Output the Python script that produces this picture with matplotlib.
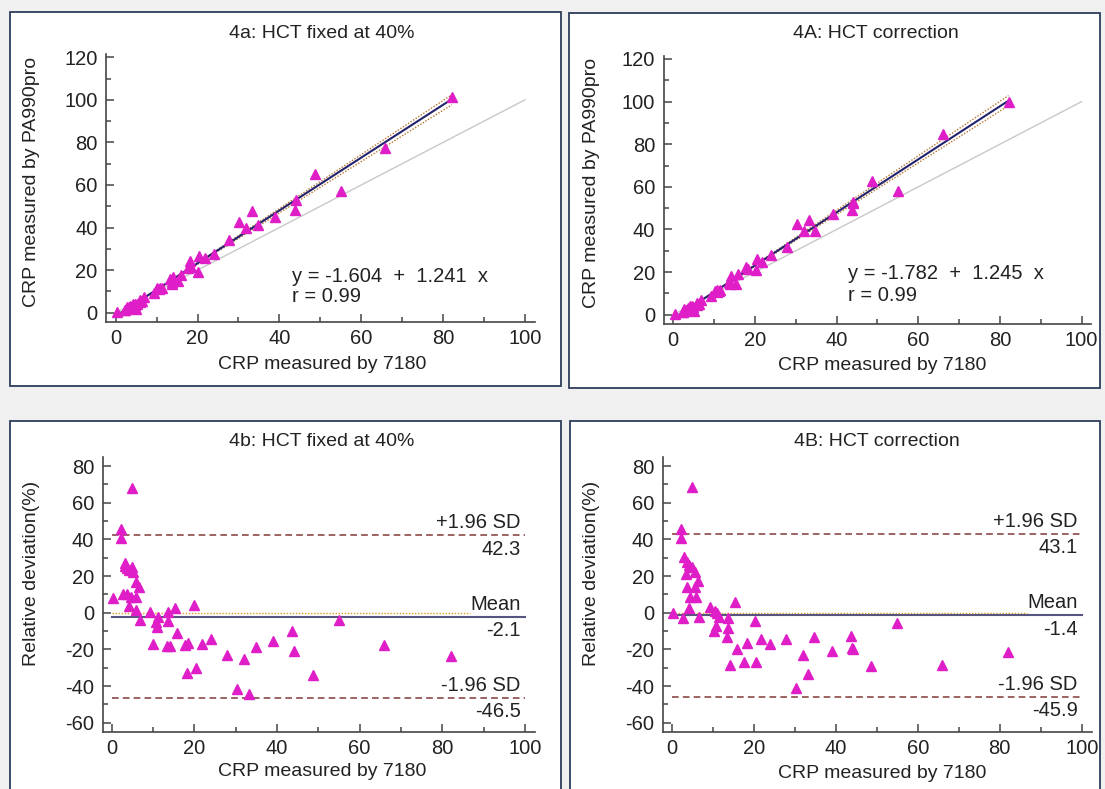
import matplotlib
matplotlib.use("Agg")
import matplotlib.pyplot as plt
from matplotlib.patches import Rectangle
from matplotlib.ticker import MultipleLocator
import numpy as np

plt.rcParams["font.family"] = ["Liberation Sans", "DejaVu Sans"]
plt.rcParams["font.size"] = 14
plt.rcParams["axes.unicode_minus"] = False

W, H = 1105, 789

# --- data: HCT fixed at 40% (4a / 4b) --------------------------------------
x_fixed = [0.4, 2.3, 2.3, 2.8, 3.1, 3.3, 3.6, 3.6, 4.2, 4.2, 4.7, 4.8, 5.0, 5.2,
           5.9, 6.0, 6.0, 6.5, 6.9, 9.3, 10.1, 10.7, 10.9, 11.3, 13.3, 13.7,
           13.7, 14.1, 15.3, 15.9, 17.7, 18.1, 18.4, 20.0, 20.4, 21.8, 24.0,
           27.8, 30.2, 31.9, 33.2, 34.8, 39.0, 43.7, 44.0, 48.6, 55.1, 65.9, 82.1]
pa_fixed = [0.4, 1.3, 1.4, 2.5, 2.3, 2.5, 3.2, 2.7, 4.0, 3.2, 4.3, 3.6, 1.6, 4.0,
            5.4, 5.0, 5.9, 5.6, 7.2, 9.3, 11.8, 11.3, 11.7, 11.6, 15.7, 13.6,
            14.3, 16.6, 14.9, 17.6, 20.9, 24.1, 21.4, 19.2, 26.6, 25.5, 27.5,
            34.3, 42.8, 39.9, 47.9, 41.4, 45.0, 48.1, 53.1, 65.1, 57.3, 77.5, 101.5]
dev_fixed = [7.8, 45.6, 40.5, 10.2, 27.3, 25.5, 10.2, 24.2, 3.6, 23.3, 8.7, 24.7,
             67.8, 22.4, 8.7, 16.9, 1.5, 14.2, -4.0, 0.5, -17.1, -5.3, -7.6, -2.2,
             -18.0, 0.5, -4.4, -18.0, 2.5, -10.9, -17.8, -33.1, -16.4, 4.2, -30.4,
             -17.1, -14.5, -23.3, -41.8, -25.1, -44.4, -18.9, -15.3, -10.0, -20.7,
             -34.0, -4.0, -17.6, -23.6]

# --- data: HCT correction (4A / 4B) ----------------------------------------
x_corr = [0.4, 2.3, 2.3, 2.7, 3.1, 3.7, 4.3, 4.9, 3.5, 5.7, 6.3, 3.7, 5.7, 4.5,
          5.9, 4.1, 5.0, 6.7, 9.3, 10.6, 11.1, 11.5, 10.8, 10.2, 13.8, 13.8,
          13.6, 15.4, 15.9, 14.1, 17.7, 18.3, 20.5, 20.2, 21.8, 24.0, 27.8,
          32.0, 33.2, 30.2, 34.7, 39.0, 43.7, 43.9, 44.1, 48.6, 55.0, 66.0, 82.1]
pa_corr = [0.4, 1.3, 1.4, 2.8, 2.2, 2.7, 3.2, 3.7, 2.8, 4.4, 5.2, 3.2, 4.9, 4.1,
           5.4, 4.0, 1.6, 6.9, 9.0, 10.5, 11.1, 11.8, 11.6, 11.2, 14.2, 14.9,
           15.4, 14.5, 19.1, 18.1, 22.5, 21.3, 26.1, 21.1, 24.9, 28.1, 31.8,
           39.4, 44.4, 42.7, 39.3, 47.1, 49.3, 52.3, 52.9, 62.7, 58.0, 84.8, 99.6]
dev_corr = [0.0, 45.6, 40.9, -2.7, 30.2, 27.8, 26.0, 24.7, 21.1, 22.4, 17.5, 14.2,
            13.8, 8.7, 8.7, 2.4, 68.4, -2.2, 3.3, 1.1, -0.4, -2.5, -7.1, -10.0,
            -2.7, -8.2, -13.1, 5.6, -19.8, -28.5, -27.1, -16.4, -27.1, -4.5,
            -14.4, -17.1, -14.5, -23.1, -33.6, -41.3, -13.1, -20.7, -12.7, -19.1,
            -20.0, -29.1, -5.5, -28.5, -21.3]

# regression: intercept, slope; CI lines (lower/upper)
reg_fixed = (-1.604, 1.241)
ci_fixed = [(-1.3, 1.205), (-1.9, 1.270)]
reg_corr = (-1.782, 1.245)
ci_corr = [(-1.5, 1.213), (-2.1, 1.278)]

# Bland-Altman: +1.96 SD, mean, -1.96 SD
ba_fixed = (42.3, -2.1, -46.5)
ba_corr = (43.1, -1.4, -45.9)

MAGENTA = "#e01ec8"
SPINE = "#454545"

fig = plt.figure(figsize=(W / 100, H / 100), dpi=100, facecolor="#f0f0f0")


def frame(l, t, r, b):
    rect = Rectangle((l / W, 1 - b / H), (r - l) / W, (b - t) / H,
                     transform=fig.transFigure, facecolor="white",
                     edgecolor="#2e3d5c", linewidth=1.3, zorder=-10)
    fig.add_artist(rect)


frame(10, 12, 561, 386)
frame(569, 13, 1100, 388)
frame(10, 421, 561, 800)
frame(570, 421, 1100, 800)


def make_ax(x0, sx, y0, sy, xlim, ylim):
    # x0/y0: pixel of data 0, sx/sy: pixels per unit
    l = x0 + sx * xlim[0]
    r = x0 + sx * xlim[1]
    t = y0 - sy * ylim[1]
    b = y0 - sy * ylim[0]
    ax = fig.add_axes([l / W, 1 - b / H, (r - l) / W, (b - t) / H])
    ax.set_zorder(5)
    ax.set_xlim(xlim)
    ax.set_ylim(ylim)
    ax.patch.set_alpha(0)
    for s in ("top", "right"):
        ax.spines[s].set_visible(False)
    for s in ("left", "bottom"):
        ax.spines[s].set_color(SPINE)
        ax.spines[s].set_linewidth(1.2)
    ax.tick_params(which="both", direction="in", color=SPINE, width=1.1,
                   labelsize=14.5, labelcolor="#222222")
    ax.tick_params(which="major", length=6)
    ax.tick_params(which="minor", length=3.3)
    ax.tick_params(axis="x", pad=5)
    ax.tick_params(axis="y", pad=6)
    ax.xaxis.set_major_locator(MultipleLocator(20))
    ax.xaxis.set_minor_locator(MultipleLocator(10))
    return ax


def ftext(px, py, s, **kw):
    fig.text(px / W, 1 - py / H, s, fontsize=14, color="#222222", zorder=6, **kw)


def scatter_panel(ax, x, y, reg, ci, label_pos):
    ax.plot([0, 100], [0, 100], color="#c8c8c8", lw=1.0, zorder=1)
    xs = np.array([min(x), max(x)])
    for a, b in ci:
        ax.plot(xs, a + b * xs, color="#b8742c", lw=1.0, ls=(0, (1, 1.2)), zorder=2)
    ax.plot(xs, reg[0] + reg[1] * xs, color="#23236e", lw=1.5, zorder=3)
    ax.plot(x, y, "^", color=MAGENTA, ms=7.5, mec=MAGENTA, zorder=4)
    ax.yaxis.set_major_locator(MultipleLocator(20))
    ax.yaxis.set_minor_locator(MultipleLocator(10))
    ax.set_yticks(range(0, 121, 20))
    ax.text(label_pos[0], label_pos[1], f"y = {reg[0]:.3f}  +  {reg[1]:.3f}  x",
            fontsize=14.5, color="#222222", va="center")
    ax.text(label_pos[0], label_pos[2], "r = 0.99", fontsize=14.5, color="#222222",
            va="center")


def ba_panel(ax, x, d, ba):
    up, mean, lo = ba
    ax.plot([0, 86.7], [0, 0], color="#d9a020", lw=1.0, ls=(0, (1, 1.2)), zorder=2)
    ax.plot([0, 100], [mean, mean], color="#55557f", lw=1.5, zorder=2)
    for v in (up, lo):
        ax.plot([0, 100], [v, v], color="#8c4848", lw=1.2, ls=(0, (4, 2.5)), zorder=2)
    ax.plot(x, d, "^", color=MAGENTA, ms=7.5, mec=MAGENTA, zorder=4)
    ax.yaxis.set_major_locator(MultipleLocator(20))
    ax.yaxis.set_minor_locator(MultipleLocator(10))
    ax.set_yticks(range(-60, 81, 20))
    for v, top in ((up, "+1.96 SD"), (mean, "Mean"), (lo, "-1.96 SD")):
        ax.annotate(top, (99, v), xytext=(0, 9), textcoords="offset points",
                    ha="right", va="center", fontsize=14.5, color="#222222")
        ax.annotate(f"{v:.1f}", (99, v), xytext=(0, -10), textcoords="offset points",
                    ha="right", va="center", fontsize=14.5, color="#222222")


ax_a = make_ax(115.7, 4.093, 312.7, 2.129, (-2.4, 102.4), (-4.2, 121.5))
scatter_panel(ax_a, x_fixed, pa_fixed, reg_fixed, ci_fixed, (43.1, 17.2, 7.4))
ax_A = make_ax(673.3, 4.083, 314.7, 2.131, (-2.4, 102.4), (-4.2, 121.5))
scatter_panel(ax_A, x_corr, pa_corr, reg_corr, ci_corr, (42.8, 19.1, 9.2))
ax_b = make_ax(111.7, 4.133, 612.7, 1.833, (-2.2, 102.4), (-65, 85))
ba_panel(ax_b, x_fixed, dev_fixed, ba_fixed)
ax_B = make_ax(671.7, 4.100, 612.7, 1.833, (-2.2, 102.4), (-65, 85))
ba_panel(ax_B, x_corr, dev_corr, ba_corr)

# titles and axis labels
ftext(322, 33, "4a: HCT fixed at 40%", ha="center", va="center")
ftext(876, 34, "4A: HCT correction", ha="center", va="center")
ftext(322, 441, "4b: HCT fixed at 40%", ha="center", va="center")
ftext(877, 441, "4B: HCT correction", ha="center", va="center")
for px, py in ((322, 365), (882, 366), (322, 772), (882, 773)):
    ftext(px, py, "CRP measured by 7180", ha="center", va="center")
ftext(32, 182, "CRP measured by PA990pro", ha="center", va="center", rotation=90)
ftext(592, 183, "CRP measured by PA990pro", ha="center", va="center", rotation=90)
ftext(32, 573, "Relative deviation(%)", ha="center", va="center", rotation=90)
ftext(592, 573, "Relative deviation(%)", ha="center", va="center", rotation=90)

fig.savefig("out.png", dpi=100, facecolor=fig.get_facecolor())
